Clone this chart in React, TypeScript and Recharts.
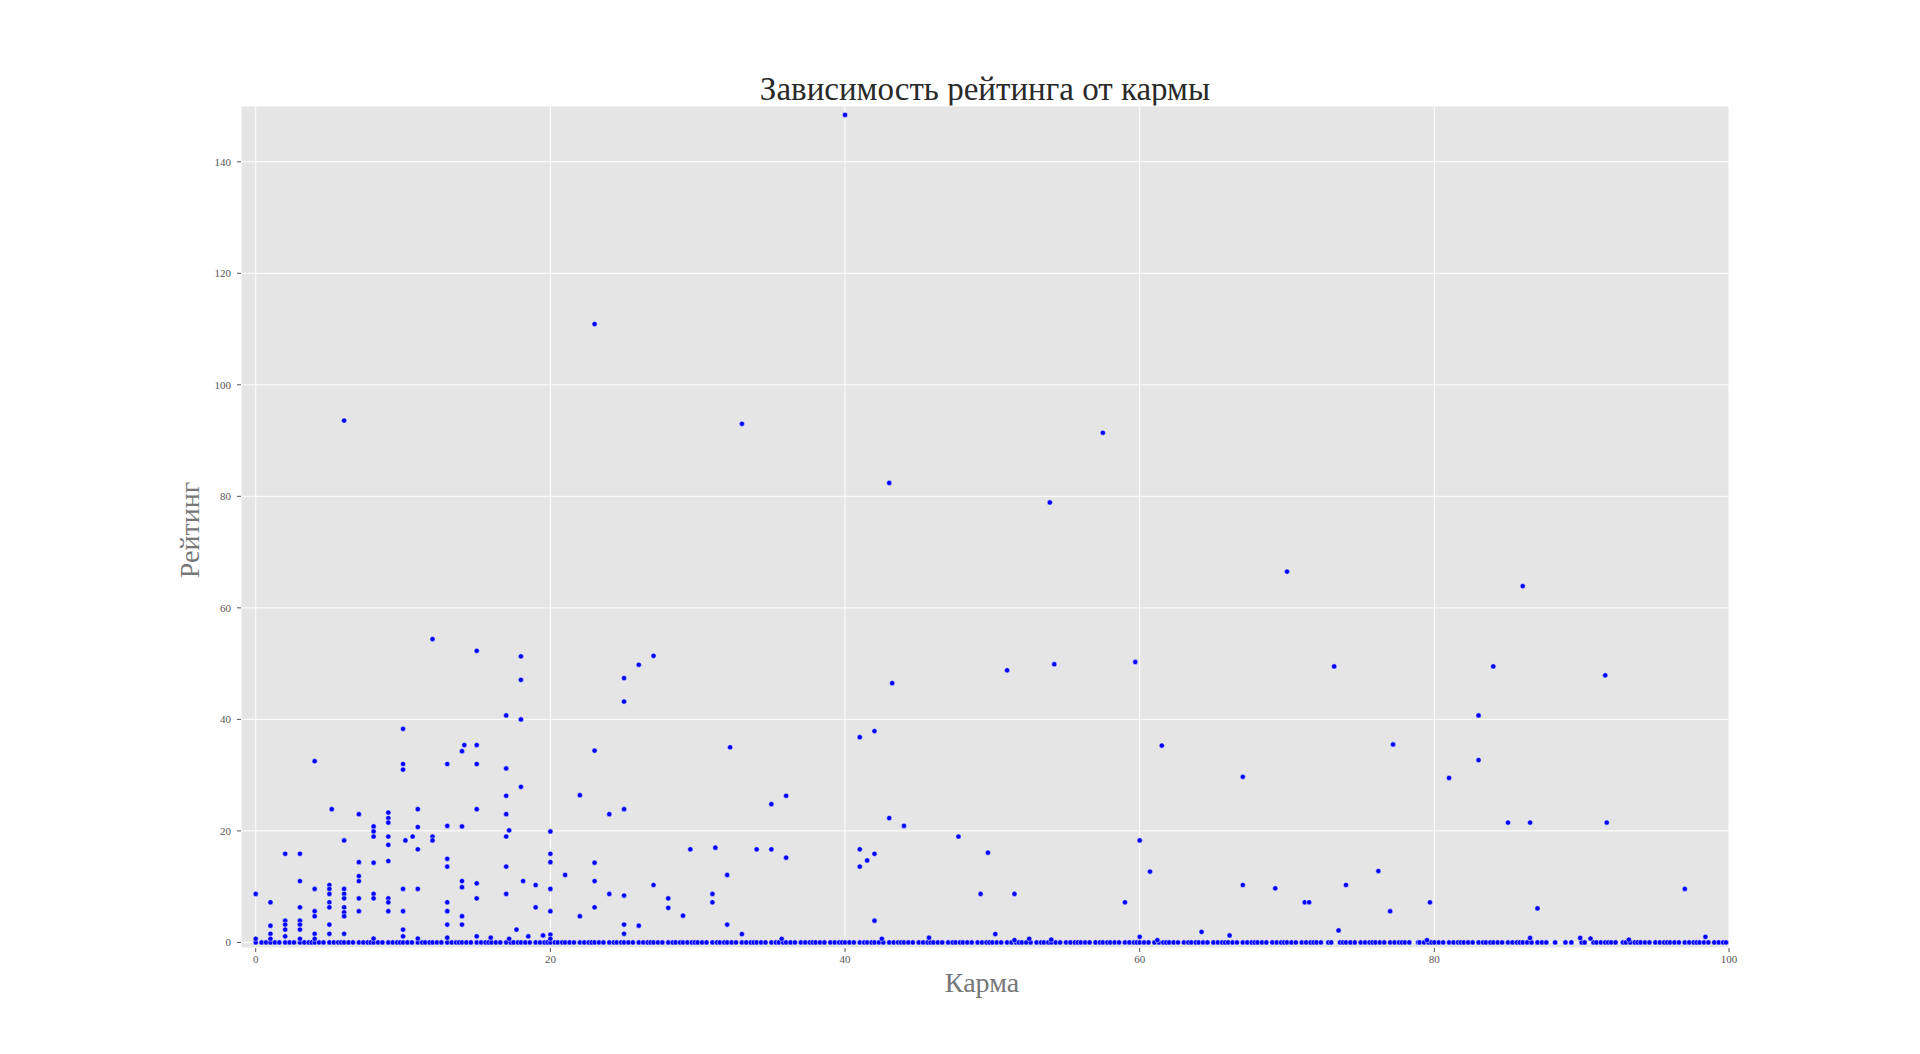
import { ScatterChart, Scatter, XAxis, YAxis, CartesianGrid } from 'recharts';

// karma / rating pairs that sit above the zero row
const karma = [
    0, 0,
    1, 1, 1, 1,
    2, 2, 2, 2, 2,
    3, 3, 3, 3, 3, 3, 3,
    4, 4, 4, 4, 4, 4,
    5.16, 5, 5, 5, 5, 5, 5, 5,
    6, 6, 6, 6, 6, 6, 6, 6, 6,
    7, 7, 7, 7, 7, 7,
    8, 8, 8, 8, 8, 8, 8,
    9, 9, 9, 9, 9, 9, 9, 9, 9,
    10, 10, 10, 10.16, 10, 10, 10, 10,
    10.65, 11, 11, 11, 11, 11,
    12, 12, 12,
    13, 13, 13, 13, 13, 13, 13, 13,
    14, 14.16, 14, 14, 14, 14, 14,
    15, 15, 15, 15, 15, 15, 15, 15.95,
    17, 17, 17, 17, 17, 17.2, 17, 17, 17.2,
    18, 18, 18, 18, 18.15, 17.7, 18.5,
    19, 19, 19.5,
    20, 20, 20, 20, 20, 20, 20,
    21, 22, 22,
    23, 23, 23, 23, 23,
    24, 24,
    25, 25, 25, 25, 25, 25,
    26, 26, 27, 27, 28, 28,
    29, 29.5, 31, 31, 31.2, 32, 32, 32.2, 33, 33, 34, 35, 35, 36, 36, 35.7,
    40, 41, 42, 41, 41, 41.5, 42, 42, 42.5, 43.2, 43, 43, 44, 45.7, 47.7,
    49.2, 49.7, 50.2, 51, 51.5, 52.5, 53.9, 54.2, 51.5, 54, 57.5,
    59, 59.7, 60, 60, 60.7, 61.5, 61.2, 64.2, 66.1, 67, 67, 69.2, 70,
    71.2, 71.5, 73.2, 73.5, 74, 76.2, 77, 77.2, 79.7, 79.5,
    81, 83, 83, 84, 85, 86, 86.5, 87, 86.5,
    91.6, 91.7, 97, 89.9, 90.6, 98.4, 93.2,
];

const rating = [
    8.7, 0.66,
    7.2, 3.0, 1.55, 0.66,
    15.9, 3.9, 3.2, 2.3, 1.1,
    15.9, 11.0, 6.3, 3.9, 3.2, 2.3, 0.66,
    32.5, 9.6, 5.6, 4.7, 1.55, 0.66,
    23.9, 10.3, 9.6, 8.7, 7.2, 6.3, 3.2, 1.55,
    93.6, 18.3, 9.6, 8.7, 7.9, 6.3, 5.4, 4.7, 1.55,
    23.0, 14.4, 11.9, 11.0, 7.9, 5.6,
    20.8, 19.9, 19.0, 14.3, 8.7, 7.9, 0.7,
    23.3, 22.3, 21.5, 19.0, 17.5, 14.6, 7.9, 7.2, 5.6,
    38.3, 32.0, 31.0, 18.3, 9.6, 5.6, 2.3, 1.1,
    19.0, 23.9, 20.7, 16.7, 9.6, 0.7,
    54.4, 19.0, 18.3,
    32.0, 20.9, 15.0, 13.6, 7.2, 5.6, 3.2, 0.85,
    34.3, 35.4, 20.8, 11.0, 9.9, 4.7, 3.2,
    52.3, 35.4, 32.0, 23.9, 10.6, 7.9, 1.1, 0.85,
    40.7, 31.2, 26.3, 23.0, 19.0, 20.1, 13.6, 8.7, 0.66,
    51.3, 47.1, 40.0, 27.9, 11.0, 2.3, 1.1,
    10.3, 6.3, 1.26,
    19.9, 15.9, 14.4, 9.6, 5.6, 1.4, 0.66,
    12.1, 26.4, 4.7,
    110.9, 34.4, 14.3, 11.0, 6.3,
    23.0, 8.7,
    47.4, 43.2, 23.9, 8.4, 3.2, 1.55,
    49.8, 3.0, 51.4, 10.3, 7.9, 6.2,
    4.8, 16.7, 8.7, 7.2, 17.0, 12.1, 3.2, 35.0, 93.0, 1.5, 16.7, 24.8, 16.7, 26.3, 15.2, 0.66,
    148.4, 36.8, 37.9, 16.7, 13.6, 14.7, 15.9, 3.9, 0.66, 46.5, 82.4, 22.3, 20.9, 0.85, 19.0,
    8.7, 16.1, 1.5, 48.8, 8.7, 0.66, 78.9, 49.9, 0.4, 0.5, 91.4,
    7.2, 50.3, 18.3, 1.0, 12.7, 35.3, 0.4, 1.9, 1.25, 29.7, 10.3, 9.7, 66.5,
    7.2, 7.2, 49.5, 2.15, 10.3, 12.8, 5.6, 35.5, 7.2, 0.4,
    29.5, 40.7, 32.7, 49.5, 21.5, 63.9, 21.5, 6.1, 0.8,
    47.9, 21.5, 9.6, 0.8, 0.7, 1.0, 0.5,
];

// karma of users whose rating is 0
const zeroRowKarma = [
    0, 0.4, 0.7, 1, 1.3, 1.6, 2, 2.3, 2.6, 3, 3.3, 3.6, 3.8, 4, 4.3, 4.6, 5, 5.3, 5.6, 5.8,
    6, 6.3, 6.6, 7, 7.3, 7.6, 7.8, 8, 8.3, 8.6, 9, 9.3, 9.6, 9.8,
    10, 10.3, 10.6, 11, 11.3, 11.5, 11.8, 12, 12.3, 12.6, 13, 13.3, 13.6, 13.8, 14, 14.3, 14.6,
    15, 15.3, 15.6, 15.8, 16, 16.3, 16.6, 17, 17.3, 17.5, 17.8, 18, 18.3, 18.6, 19, 19.3, 19.6, 19.8,
    20, 20.3, 20.5, 20.8, 21, 21.3, 21.6, 22, 22.3, 22.6, 22.8, 23, 23.3, 23.6, 24, 24.3, 24.5, 24.8,
    25, 25.3, 25.6, 26, 26.3, 26.6, 26.8, 27, 27.3, 27.6, 28, 28.3, 28.5, 28.8, 29, 29.3, 29.6, 29.8,
    30, 30.3, 30.6, 31, 31.3, 31.5, 31.8, 32, 32.3, 32.6, 33, 33.3, 33.6, 33.8, 34, 34.3, 34.6,
    35, 35.3, 35.5, 35.8, 36, 36.3, 36.6, 37, 37.3, 37.6, 37.8, 38, 38.3, 38.6, 39, 39.3, 39.6, 39.8,
    40, 40.3, 40.6, 41, 41.3, 41.5, 41.8, 42, 42.3, 42.6, 43, 43.3, 43.6, 43.8, 44, 44.3, 44.6,
    45, 45.3, 45.6, 45.8, 46, 46.3, 46.6, 47, 47.3, 47.5, 47.8, 48, 48.3, 48.6, 49, 49.3, 49.6, 49.8,
    50, 50.3, 50.6, 51, 51.3, 51.6, 51.8, 52, 52.3, 52.6, 53, 53.3, 53.5, 53.8, 54, 54.3, 54.6,
    55, 55.3, 55.6, 55.8, 56, 56.3, 56.6, 57, 57.3, 57.5, 57.8, 58, 58.3, 58.6, 59, 59.3, 59.6, 59.8,
    60, 60.3, 60.6, 61, 61.3, 61.6, 61.8, 62, 62.3, 62.6, 63, 63.3, 63.5, 63.8, 64, 64.3, 64.6,
    65, 65.3, 65.6, 65.8, 66, 66.3, 66.6, 67, 67.3, 67.6, 67.8, 68, 68.3, 68.6, 69, 69.3, 69.6, 69.8,
    70, 70.3, 70.6, 71, 71.3, 71.6, 71.8, 72, 72.3, 72.8, 73, 73.6, 73.8, 74, 74.3, 74.6,
    75, 75.3, 75.6, 75.8, 76, 76.3, 76.6, 77, 77.3, 77.6, 77.8, 78, 78.3, 78.9, 79, 79.3, 79.6, 79.8,
    80, 80.3, 80.6, 81, 81.3, 81.6, 81.8, 82, 82.3, 82.6, 83, 83.3, 83.5, 83.8, 84, 84.3, 84.6,
    85, 85.3, 85.6, 85.8, 86, 86.3, 86.6, 87, 87.3, 87.6, 88.2, 88.9, 89.3, 90, 90.2, 90.8,
    91, 91.3, 91.6, 91.8, 92, 92.3, 92.8, 93, 93.3, 93.6, 93.8, 94, 94.3, 94.6, 95, 95.3, 95.6, 95.8,
    96, 96.3, 96.6, 97, 97.3, 97.6, 97.8, 98, 98.3, 98.6, 99, 99.3, 99.6, 99.8,
];

const xTicks = [0, 20, 40, 60, 80, 100];
const yTicks = [0, 20, 40, 60, 80, 100, 120, 140];

const raised = karma.map((k, i) => ({ x: k, y: rating[i] }));
const zeroRow = zeroRowKarma.map(k => ({ x: k, y: 0 }));

const FONT = '"Liberation Serif", "DejaVu Serif", serif';
const tickStyle = { fill: '#555', fontSize: 11, fontFamily: FONT };

const Dot = (props: any) => (
    <circle cx={props.cx} cy={props.cy} r={2.6} fill="#0000ff" stroke="#ffffff" strokeWidth={0.5} />
);

export default function App() {
    return (
        <div style={{ position: 'absolute', left: 0, top: 0, width: 1920, height: 1054, background: '#fff' }}>
            <div style={{
                position: 'absolute', left: 985, top: 73, transform: 'translateX(-50%)',
                fontFamily: FONT, fontSize: 33, lineHeight: 1, color: '#2a2a2a', whiteSpace: 'nowrap'
            }}>
                Зависимость рейтинга от кармы
            </div>
            <div style={{
                position: 'absolute', left: 190, top: 530, transform: 'translate(-50%, -50%) rotate(-90deg)',
                fontFamily: FONT, fontSize: 28, lineHeight: 1, color: '#777', whiteSpace: 'nowrap'
            }}>
                Рейтинг
            </div>
            <div style={{
                position: 'absolute', left: 982, top: 969, transform: 'translateX(-50%)',
                fontFamily: FONT, fontSize: 28, lineHeight: 1, color: '#777', whiteSpace: 'nowrap'
            }}>
                Карма
            </div>
            <ScatterChart
                width={1920}
                height={1054}
                margin={{ top: 96, right: 181, bottom: 76, left: 181 }}
            >
                <CartesianGrid fill="#e5e5e5" stroke="#ffffff" strokeWidth={1} />
                <XAxis
                    dataKey="x" type="number" domain={[-1, 100]} ticks={xTicks}
                    allowDataOverflow height={30} tickSize={4} tickMargin={3}
                    axisLine={false} tickLine={{ stroke: '#555' }} tick={tickStyle}
                />
                <XAxis
                    xAxisId="top" orientation="top" dataKey="x" type="number" domain={[-1, 100]}
                    ticks={xTicks} allowDataOverflow height={10} tickSize={4}
                    axisLine={false} tickLine={{ stroke: '#555' }} tick={false}
                />
                <YAxis
                    dataKey="y" type="number" domain={[-1, 150]} ticks={yTicks}
                    allowDataOverflow width={60} tickSize={4} tickMargin={6}
                    axisLine={false} tickLine={{ stroke: '#555' }} tick={tickStyle}
                />
                <YAxis
                    yAxisId="right" orientation="right" dataKey="y" type="number" domain={[-1, 150]}
                    ticks={yTicks} allowDataOverflow width={10} tickSize={4}
                    axisLine={false} tickLine={{ stroke: '#555' }} tick={false}
                />
                <Scatter data={zeroRow} shape={Dot} isAnimationActive={false} />
                <Scatter data={raised} shape={Dot} isAnimationActive={false} />
            </ScatterChart>
        </div>
    );
}
